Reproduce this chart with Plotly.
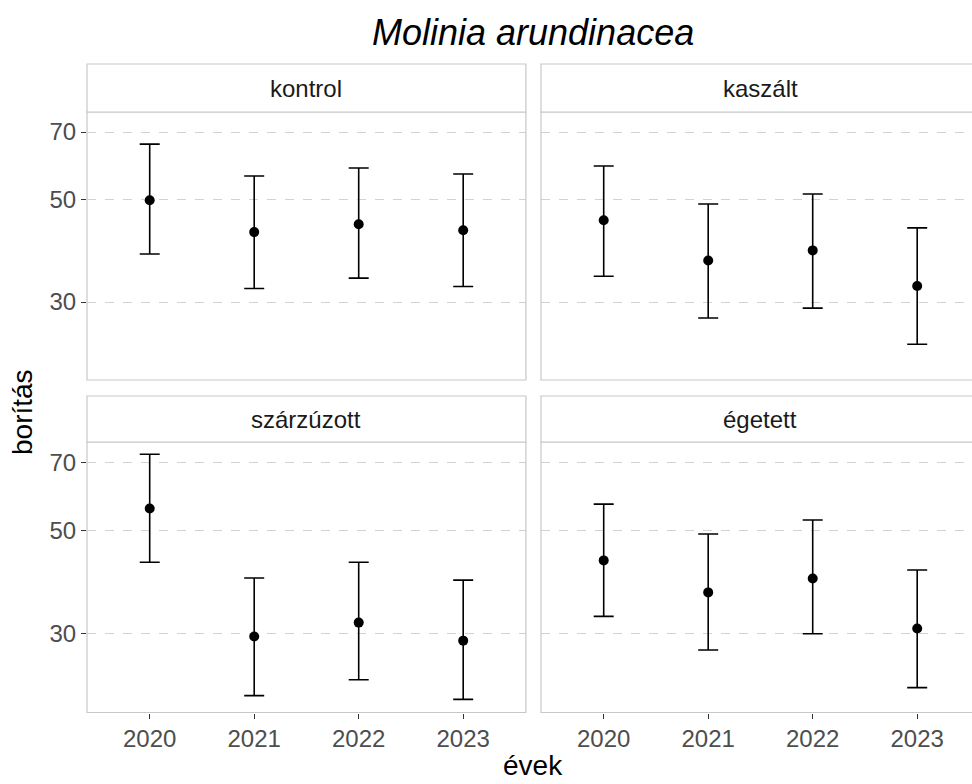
import plotly.graph_objects as go

years = ["2020", "2021", "2022", "2023"]
treatments = ["kontrol", "kaszált", "szárzúzott", "égetett"]

kontrol_mean = [49.8, 42.5, 44.2, 42.9]
kontrol_upper = [65.9, 56.2, 58.5, 56.8]
kontrol_lower = [38.1, 32.1, 33.8, 32.4]

kaszalt_mean = [45.1, 36.9, 38.8, 32.5]
kaszalt_upper = [59.1, 48.9, 51.4, 43.4]
kaszalt_lower = [34.1, 27.7, 29.1, 24.3]

szarzuzott_mean = [55.7, 29.6, 31.7, 29.0]
szarzuzott_upper = [72.8, 39.5, 42.7, 39.1]
szarzuzott_lower = [42.7, 22.1, 23.9, 21.7]

egetett_mean = [43.1, 36.8, 39.4, 30.8]
egetett_upper = [56.9, 49.1, 52.6, 41.1]
egetett_lower = [32.7, 27.7, 30.0, 23.0]

y_ticks = [30, 50, 70]

series = [
    (kontrol_mean, kontrol_upper, kontrol_lower),
    (kaszalt_mean, kaszalt_upper, kaszalt_lower),
    (szarzuzott_mean, szarzuzott_upper, szarzuzott_lower),
    (egetett_mean, egetett_upper, egetett_lower),
]

W, H = 972, 784
FONT = "Liberation Sans, Arial, sans-serif"

def px_x(v):
    return v / W

def px_y(v):
    return 1 - v / H

# panel geometry in pixels
unit = 104.5
col_left = [87, 541]
col_right_full = [87 + 4.2 * unit, 541 + 4.2 * unit]
row_top = [112, 442]
row_bot = [380, 712.5]
strip_top = [64, 396]

fig = go.Figure()
layout = dict(
    width=W, height=H,
    margin=dict(l=0, r=0, t=0, b=0),
    paper_bgcolor="white", plot_bgcolor="white",
    showlegend=False,
    font=dict(family=FONT),
)

shapes = []
annotations = []

for i, (name, (m, up, lo)) in enumerate(zip(treatments, series)):
    r, c = divmod(i, 2)
    idx = i + 1
    xa = "xaxis" if idx == 1 else f"xaxis{idx}"
    ya = "yaxis" if idx == 1 else f"yaxis{idx}"
    xref = "x" if idx == 1 else f"x{idx}"
    yref = "y" if idx == 1 else f"y{idx}"

    x0 = col_left[c]
    x1_vis = min(col_right_full[c], W)
    xr_hi = -0.6 + (x1_vis - x0) / unit

    layout[xa] = dict(
        domain=[px_x(x0), px_x(x1_vis)],
        anchor=yref,
        type="category",
        categoryorder="array", categoryarray=years,
        range=[-0.6, xr_hi],
        showgrid=False, zeroline=False, showline=False,
        ticks="outside" if r == 1 else "",
        ticklen=5, tickwidth=1, tickcolor="#333333",
        showticklabels=(r == 1),
        tickfont=dict(size=24, color="#4D4D4D", family=FONT),
        fixedrange=True,
    )
    layout[ya] = dict(
        domain=[px_y(row_bot[r]), px_y(row_top[r])],
        anchor=xref,
        type="log",
        range=[1.3083, 1.8884],
        tickvals=y_ticks, ticktext=[str(t) for t in y_ticks],
        showgrid=True, gridcolor="#D2D2D2", gridwidth=1, griddash="dash",
        zeroline=False, showline=False,
        ticks="outside" if c == 0 else "",
        ticklen=5, tickwidth=1, tickcolor="#333333",
        showticklabels=(c == 0),
        tickfont=dict(size=24, color="#4D4D4D", family=FONT),
        fixedrange=True,
    )

    fig.add_trace(go.Scatter(
        x=years, y=m, mode="markers",
        marker=dict(color="black", size=10),
        error_y=dict(
            type="data", symmetric=False,
            array=[u - v for u, v in zip(up, m)],
            arrayminus=[v - l for v, l in zip(m, lo)],
            color="black", thickness=1.6, width=10,
        ),
        xaxis=xref, yaxis=yref,
    ))

    # panel border
    shapes.append(dict(
        type="rect", xref="paper", yref="paper",
        x0=px_x(x0), x1=px_x(col_right_full[c]),
        y0=px_y(row_bot[r]), y1=px_y(row_top[r]),
        line=dict(color="#C8C8C8", width=1.2), fillcolor="rgba(0,0,0,0)",
        layer="above",
    ))
    # strip
    shapes.append(dict(
        type="rect", xref="paper", yref="paper",
        x0=px_x(x0), x1=px_x(col_right_full[c]),
        y0=px_y(row_top[r]), y1=px_y(strip_top[r]),
        line=dict(color="#C8C8C8", width=1.2), fillcolor="white",
    ))
    annotations.append(dict(
        text=name, xref="paper", yref="paper",
        x=px_x((x0 + col_right_full[c]) / 2),
        y=px_y((strip_top[r] + row_top[r]) / 2),
        xanchor="center", yanchor="middle", showarrow=False,
        font=dict(size=24, color="#1A1A1A", family=FONT),
    ))

annotations.append(dict(
    text="<i>Molinia arundinacea</i>", xref="paper", yref="paper",
    x=px_x((87 + col_right_full[1]) / 2), y=px_y(32),
    xanchor="center", yanchor="middle", showarrow=False,
    font=dict(size=36, color="black", family=FONT),
))
annotations.append(dict(
    text="évek", xref="paper", yref="paper",
    x=px_x((87 + col_right_full[1]) / 2), y=px_y(765),
    xanchor="center", yanchor="middle", showarrow=False,
    font=dict(size=28, color="black", family=FONT),
))
annotations.append(dict(
    text="borítás", xref="paper", yref="paper",
    x=px_x(22), y=px_y(412), textangle=-90,
    xanchor="center", yanchor="middle", showarrow=False,
    font=dict(size=28, color="black", family=FONT),
))

layout["shapes"] = shapes
layout["annotations"] = annotations
fig.update_layout(**layout)
fig.write_html(
    "out.html",
    config={"displayModeBar": False, "staticPlot": True},
    post_script="document.body.style.margin='0';document.body.style.overflow='hidden';",
)
